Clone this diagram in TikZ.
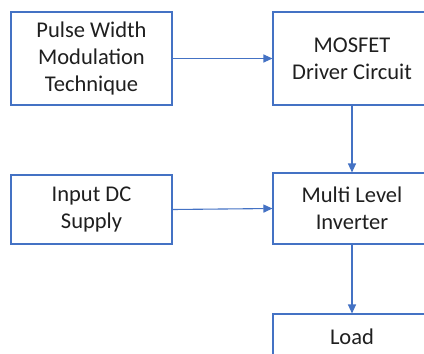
\documentclass[tikz,border=0pt]{standalone}
\usepackage{fontspec}
\setmainfont{Carlito}
\usetikzlibrary{arrows.meta}
\definecolor{edgeblue}{HTML}{4472C4}
\definecolor{inkgray}{HTML}{1F1F1F}
\begin{document}
\begin{tikzpicture}[x=1pt,y=-1pt,
  block/.style={draw=edgeblue, line width=1.1pt, fill=white, align=center,
    inner sep=0pt, text=inkgray,
    font=\fontsize{22.5}{27}\selectfont},
  flow/.style={draw=edgeblue, line width=1.1pt,
    -{Triangle[length=9pt,width=8pt]}}]
  \useasboundingbox (0,0) rectangle (424,354);
  \clip (0,0) rectangle (424,354);
  \node[block, minimum width=161pt, minimum height=93pt] (pwm) at (91.5,58.5)
    {Pulse Width\\Modulation\\Technique};
  \node[block, minimum width=158pt, minimum height=93pt] (drv) at (352,58.5)
    {MOSFET\\Driver Circuit};
  \node[block, minimum width=161pt, minimum height=69pt] (dc) at (91.5,209.5)
    {Input DC\\Supply};
  \node[block, minimum width=158pt, minimum height=71pt] (inv) at (352,208.5)
    {Multi Level\\Inverter};
  \node[block, minimum width=158pt, minimum height=46pt] (load) at (352,337)
    {Load};
  \draw[flow] (pwm.east) -- (drv.west);
  \draw[flow] (dc.east) -- (inv.west);
  \draw[flow] (drv.south) -- (inv.north);
  \draw[flow] (inv.south) -- (load.north);
\end{tikzpicture}
\end{document}
